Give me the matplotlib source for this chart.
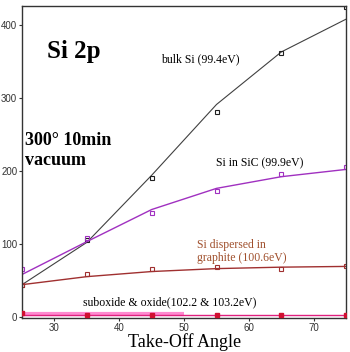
import matplotlib
matplotlib.use("Agg")
import matplotlib.pyplot as plt

angles = [25, 35, 45, 55, 65, 75]

bulk_pts = [44, 105, 190, 280, 362, 424]
bulk_fit = [44, 102, 194, 291, 363, 408]

sic_pts = [66, 108, 142, 172, 196, 205]
sic_fit = [58, 103, 147, 176, 192, 202]

disp_pts = [44, 58, 65, 68, 65, 69]
disp_fit = [44, 55, 62, 66, 68, 69]

oxide_pts = [5, 2, 2, 2, 2, 2]
oxide_fit = [2, 2, 2, 2, 2, 2]
oxide_fit2_x = [25, 50]
oxide_fit2 = [3.5, 3.5]

xticks = [30, 40, 50, 60, 70]
yticks = [0, 100, 200, 300, 400]

fig = plt.figure(figsize=(3.5, 3.52), dpi=100)
ax = fig.add_axes([0.063, 0.097, 0.926, 0.886])

serif = "Liberation Serif"

ax.plot(oxide_fit2_x, oxide_fit2, color="#ff8ad0", lw=3, solid_capstyle="butt", zorder=2)
ax.plot(angles, oxide_fit, color="#e0207f", lw=1.0, zorder=3)
ax.plot(angles, oxide_pts, ls="none", marker="s", ms=3, color="#d01030", zorder=4)

ax.plot(angles, bulk_fit, color="#404040", lw=0.8)
ax.plot(angles, bulk_pts, ls="none", marker="s", ms=3.2, mfc="none", mec="#202020", mew=0.8)

ax.plot(angles, sic_fit, color="#a030c0", lw=1.0)
ax.plot(angles, sic_pts, ls="none", marker="s", ms=3.2, mfc="none", mec="#a030c0", mew=0.8)

ax.plot(angles, disp_fit, color="#a03030", lw=1.0)
ax.plot(angles, disp_pts, ls="none", marker="s", ms=3.2, mfc="none", mec="#a03030", mew=0.8)

ax.set_xlim(25, 75)
ax.set_ylim(-1.5, 426)
ax.set_xticks(xticks)
ax.set_yticks(yticks)
ax.tick_params(labelsize=7, colors="#333333", length=2, width=0.8, pad=1.5)
for lbl in ax.get_xticklabels() + ax.get_yticklabels():
    lbl.set_family("Liberation Sans")
for s in ax.spines.values():
    s.set_color("#333333")
    s.set_linewidth(1.0)

ax.set_xlabel("Take-Off Angle", family=serif, fontsize=13, labelpad=0)

ax.text(33.0, 364, "Si 2p", family=serif, fontweight="bold", fontsize=18, ha="center", va="center")
ax.text(25.5, 241, "300° 10min", family=serif, fontweight="bold", fontsize=13, ha="left", va="center")
ax.text(25.5, 214, "vacuum", family=serif, fontweight="bold", fontsize=13, ha="left", va="center")
ax.text(52.5, 353, "bulk Si (99.4eV)", family=serif, fontsize=8.5, ha="center", va="center")
ax.text(61.7, 210, "Si in SiC (99.9eV)", family=serif, fontsize=8.5, ha="center", va="center")
ax.text(52.0, 99, "Si dispersed in", family=serif, fontsize=8.5, ha="left", va="center", color="#a0502d")
ax.text(52.0, 80, "graphite (100.6eV)", family=serif, fontsize=8.5, ha="left", va="center", color="#a0502d")
ax.text(47.7, 20, "suboxide & oxide(102.2 & 103.2eV)", family=serif, fontsize=8.5, ha="center", va="center")

fig.savefig("out.png", dpi=100)
